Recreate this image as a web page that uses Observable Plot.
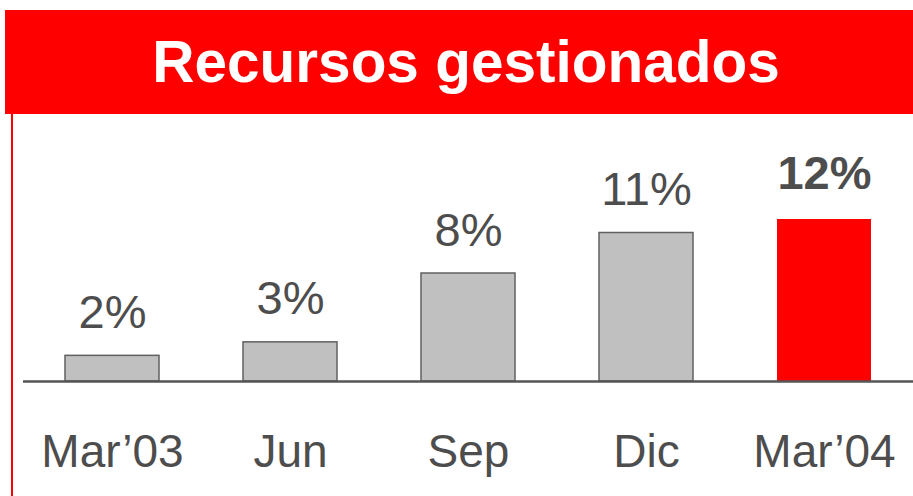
<!DOCTYPE html>
<html>
<head>
<meta charset="utf-8">
<script src="https://cdn.jsdelivr.net/npm/d3@7"></script>
<script src="https://cdn.jsdelivr.net/npm/@observablehq/plot@0.6"></script>
<style>
  html, body { margin: 0; padding: 0; background: #fff; }
  body { width: 913px; height: 496px; overflow: hidden; position: relative; font-family: "Liberation Sans", Arial, sans-serif; }
  #banner { position: absolute; left: 5px; top: 10px; width: 908px; height: 104px; background: #ff0000;
    color: #fff; font-weight: bold; font-size: 58.5px; text-align: center; line-height: 104px; box-sizing: border-box; padding-left: 14px; }
  #vline { position: absolute; left: 11px; top: 114px; width: 2px; height: 382px; background: #ff0000; }
  #chart { position: absolute; left: 0; top: 113px; }
</style>
</head>
<body>
<div id="banner">Recursos gestionados</div>
<div id="vline"></div>
<div id="chart"></div>
<script>
const categories = ["Mar’03", "Jun", "Sep", "Dic", "Mar’04"];
const values = [1.9, 2.9, 8.0, 11.0, 12.0];
const valueLabels = ["2%", "3%", "8%", "11%", "12%"];
const highlight = [false, false, false, false, true];

const data = categories.map((c, i) => ({cat: c, v: values[i], label: valueLabels[i], hi: highlight[i]}));

const chart = Plot.plot({
  width: 913,
  height: 383,
  marginLeft: 23,
  marginRight: 0,
  marginTop: 106,
  marginBottom: 115,
  style: {fontFamily: "'Liberation Sans', Arial, sans-serif", background: "transparent", overflow: "visible"},
  x: {domain: categories, paddingInner: 0.47, paddingOuter: 0.235, axis: null},
  y: {domain: [0, 12], axis: null},
  marks: [
    Plot.barY(data.filter(d => !d.hi), {x: "cat", y: "v", fill: "#c0c0c0", stroke: "#606060", strokeWidth: 1.5}),
    Plot.barY(data.filter(d => d.hi), {x: "cat", y: "v", fill: "#ff0000"}),
    Plot.ruleY([0], {stroke: "#555555", strokeWidth: 2.5}),
    Plot.text(data.filter(d => !d.hi), {x: "cat", y: "v", text: "label", lineAnchor: "bottom", dy: -28, fontSize: 47, fill: "#4d4d4d"}),
    Plot.text(data.filter(d => d.hi), {x: "cat", y: "v", text: "label", lineAnchor: "bottom", dy: -31, fontSize: 47, fontWeight: "bold", fill: "#4d4d4d"}),
    Plot.axisX({domain: categories, tickSize: 0, tickPadding: 53, fontSize: 46, fill: "#4d4d4d", label: null})
  ]
});
document.getElementById("chart").appendChild(chart);
</script>
</body>
</html>
